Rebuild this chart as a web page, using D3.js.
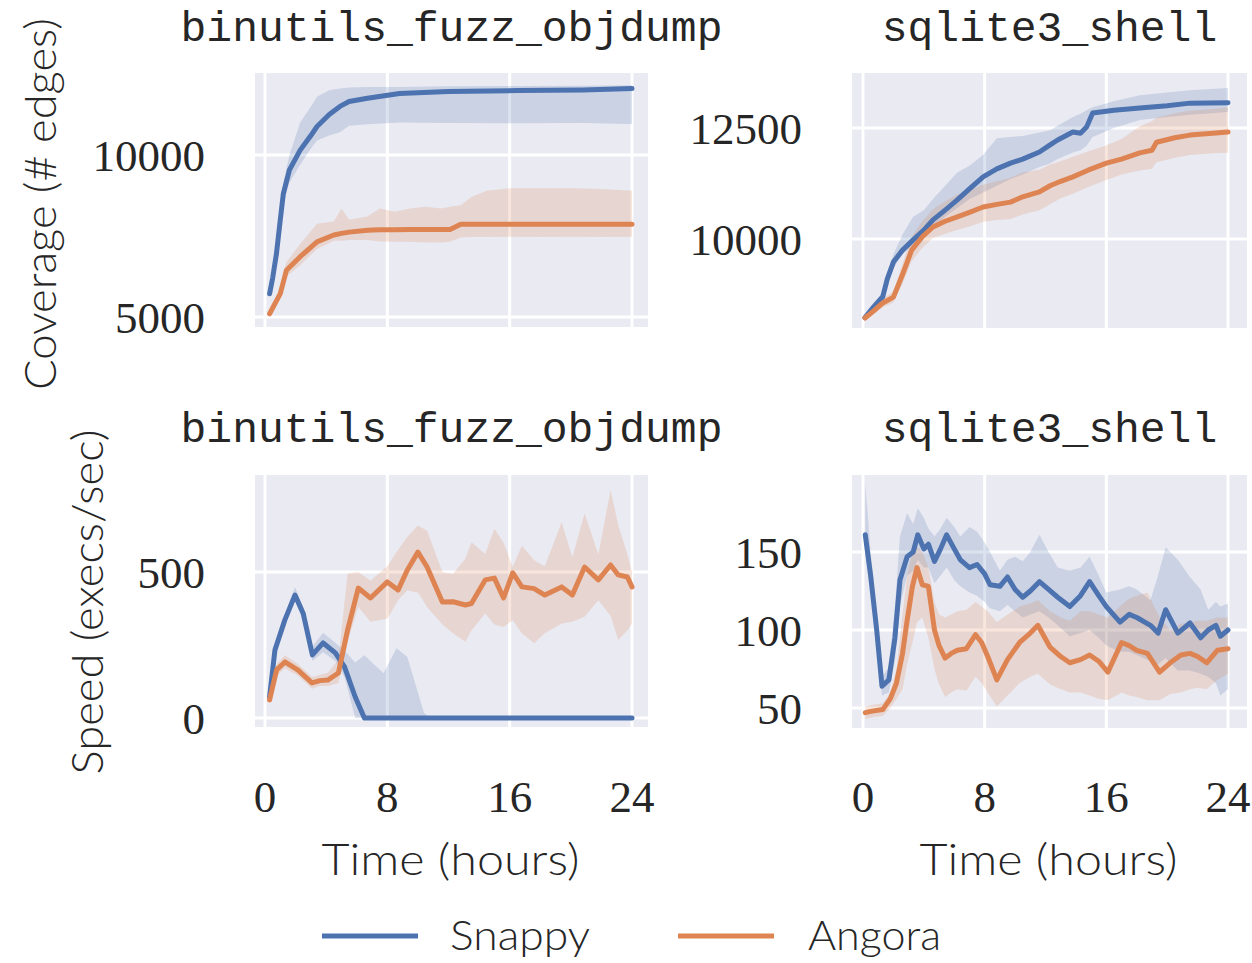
<!DOCTYPE html>
<html>
<head>
<meta charset="utf-8">
<script src="https://cdn.jsdelivr.net/npm/d3@7"></script>
<style>
  html, body { margin: 0; padding: 0; background: #fff; }
  svg { display: block; }
</style>
</head>
<body>
<svg id="chart" width="1252" height="963"></svg>
<script>
// ---------------- DATA ----------------
const hourTicks = [0, 8, 16, 24];
const covObjTicks = [5000, 10000];
const covSqlTicks = [10000, 12500];
const spdObjTicks = [0, 500];
const spdSqlTicks = [50, 100, 150];
const seriesNames = ["Snappy", "Angora"];

// binutils_fuzz_objdump coverage
const objCovSnappyT    = [0.3, 0.5, 0.75, 1.0, 1.2, 1.6, 2.3, 3.0, 3.4, 4.2, 4.9, 5.5, 6.7, 8.8, 12, 16.5, 20.8, 24];
const objCovSnappyMean = [5720, 6200, 6960, 8000, 8810, 9540, 10150, 10600, 10880, 11250, 11500, 11650, 11750, 11900, 11960, 11990, 12010, 12050];
const objCovSnappyHi   = [5800, 6350, 7150, 8300, 9150, 10000, 11000, 11500, 11800, 12000, 12050, 12080, 12100, 12100, 12120, 12130, 12140, 12150];
const objCovSnappyLo   = [5650, 6080, 6800, 7750, 8500, 9150, 9700, 10200, 10450, 10600, 10700, 10900, 10950, 11000, 10990, 10980, 10990, 10960];

const objCovAngoraT    = [0.3, 1.0, 1.4, 2.3, 3.4, 4.5, 5.0, 5.5, 6.7, 7.5, 8.5, 9.5, 10.5, 11.5, 12.1, 12.8, 13.5, 14.5, 16, 18, 20, 22, 24];
const objCovAngoraMean = [5100, 5720, 6440, 6860, 7320, 7530, 7580, 7620, 7680, 7690, 7690, 7700, 7700, 7700, 7700, 7860, 7860, 7860, 7860, 7860, 7860, 7860, 7860];
const objCovAngoraHi   = [5200, 5900, 6700, 7250, 7880, 7950, 8350, 8000, 8100, 8350, 8250, 8350, 8400, 8350, 8400, 8450, 8700, 8900, 8970, 8970, 8970, 8950, 8900];
const objCovAngoraLo   = [5050, 5600, 6250, 6600, 7100, 7350, 7350, 7380, 7380, 7330, 7320, 7320, 7300, 7300, 7320, 7450, 7470, 7470, 7480, 7470, 7480, 7470, 7480];

// sqlite3_shell coverage
const sqlCovSnappyT    = [0.13, 0.7, 1.3, 1.6, 2.0, 2.6, 3.3, 4.0, 4.6, 5.4, 6.2, 7.0, 7.9, 8.8, 9.7, 10.5, 11.6, 12.3, 12.8, 13.8, 14.3, 14.7, 15.1, 16.5, 18.2, 20, 21.5, 24];
const sqlCovSnappyMean = [8230, 8470, 8700, 9100, 9480, 9750, 9980, 10200, 10430, 10650, 10880, 11130, 11400, 11580, 11710, 11800, 11960, 12120, 12230, 12410, 12380, 12520, 12840, 12900, 12950, 13000, 13060, 13070];
const sqlCovSnappyHi   = [8290, 8560, 8800, 9250, 9650, 10100, 10500, 10650, 10900, 11200, 11500, 11650, 11900, 12270, 12300, 12320, 12400, 12450, 12550, 12750, 12820, 12900, 12970, 13100, 13240, 13300, 13350, 13400];
const sqlCovSnappyLo   = [8170, 8400, 8620, 8950, 9350, 9650, 9880, 10050, 10250, 10500, 10700, 10900, 11050, 11200, 11350, 11450, 11620, 11700, 11800, 11950, 12000, 12100, 12300, 12500, 12680, 12750, 12800, 12860];

const sqlCovAngoraT    = [0.13, 0.7, 1.3, 2.0, 2.6, 3.2, 3.9, 4.6, 5.4, 6.2, 7.0, 7.9, 8.8, 9.7, 10.5, 11.6, 12.3, 13.0, 13.8, 14.8, 16.0, 17.0, 18.2, 19.0, 19.3, 20.5, 21.5, 23, 24];
const sqlCovAngoraMean = [8220, 8380, 8560, 8690, 9200, 9750, 10050, 10270, 10400, 10500, 10600, 10720, 10780, 10830, 10950, 11060, 11200, 11300, 11400, 11550, 11710, 11800, 11940, 12000, 12180, 12280, 12340, 12380, 12410];
const sqlCovAngoraHi   = [8280, 8460, 8660, 8810, 9450, 10050, 10400, 10670, 10850, 11000, 11100, 11220, 11300, 11380, 11500, 11560, 11680, 11750, 11850, 11970, 12110, 12250, 12540, 12650, 12730, 12830, 12890, 12930, 12970];
const sqlCovAngoraLo   = [8160, 8300, 8460, 8570, 9000, 9500, 9800, 10020, 10120, 10200, 10280, 10390, 10430, 10450, 10550, 10650, 10780, 10920, 11020, 11170, 11330, 11450, 11540, 11580, 11730, 11830, 11890, 11930, 11940];

// binutils_fuzz_objdump speed
const objSpdSnappyT    = [0.3, 0.65, 1.3, 1.96, 2.5, 3.1, 3.8, 4.6, 5.2, 5.9, 6.5, 7.75, 8.6, 9.3, 10.4, 10.8, 24];
const objSpdSnappyMean = [72, 233, 336, 421, 358, 216, 257, 223, 175, 72, 0, 0, 0, 0, 0, 0, 0];
const objSpdSnappyHi   = [82, 250, 355, 448, 380, 245, 292, 258, 230, 190, 215, 153, 239, 210, 17, 0, 0];
const objSpdSnappyLo   = [62, 215, 318, 400, 335, 195, 225, 195, 140, 0, 0, 0, 0, 0, 0, 0, 0];

const objSpdAngoraT    = [0.3, 0.76, 1.3, 2.16, 3.07, 3.6, 4.1, 4.8, 5.4, 6.1, 6.9, 8.0, 8.7, 9.3, 10.0, 10.6, 11.6, 12.3, 13.1, 13.5, 14.4, 15.0, 15.6, 16.2, 16.8, 17.6, 18.3, 19.4, 20.1, 20.9, 21.8, 22.6, 23.1, 23.7, 24.0];
const objSpdAngoraMean = [62, 165, 192, 164, 120, 128, 130, 154, 301, 445, 411, 466, 438, 506, 568, 517, 397, 398, 387, 392, 473, 479, 411, 497, 449, 443, 421, 449, 421, 517, 473, 524, 490, 483, 449];
const objSpdAngoraHi   = [75, 185, 215, 185, 140, 148, 155, 200, 494, 500, 470, 520, 575, 620, 659, 641, 500, 494, 545, 602, 562, 648, 600, 517, 590, 540, 520, 670, 550, 700, 560, 780, 660, 560, 500];
const objSpdAngoraLo   = [50, 145, 170, 145, 100, 110, 110, 120, 260, 380, 330, 340, 403, 437, 430, 380, 320, 290, 261, 300, 358, 320, 312, 335, 290, 256, 290, 324, 330, 347, 403, 350, 267, 300, 324];

// sqlite3_shell speed
const sqlSpdSnappyT    = [0.15, 0.5, 0.9, 1.25, 1.7, 2.1, 2.43, 2.9, 3.3, 3.6, 4.0, 4.3, 4.7, 5.1, 5.5, 6.0, 6.4, 7.0, 7.5, 8.0, 8.35, 9.0, 9.5, 10.0, 10.5, 11.0, 11.6, 12.2, 12.8, 13.6, 14.3, 14.9, 15.5, 16.0, 16.9, 17.5, 18.0, 18.9, 19.4, 19.9, 20.7, 21.5, 22.2, 22.7, 23.2, 23.5, 24];
const sqlSpdSnappyMean = [161, 135, 100, 64, 68, 95, 132, 147, 150, 161, 152, 155, 144, 152, 161, 152, 145, 140, 142, 136, 129, 128, 134, 126, 121, 125, 131, 126, 121, 115, 122, 131, 122, 115, 105, 110, 108, 103, 98, 113, 98, 104.5, 95, 100, 103, 96, 100];
const sqlSpdSnappyHi   = [194, 150, 110, 70, 76, 115, 160, 175, 168, 178, 172, 165, 160, 165, 172, 166, 160, 166, 163, 156, 150, 138, 145, 147, 144, 150, 161, 150, 140, 138, 140, 147, 135, 124, 126, 128, 126, 119, 135, 153, 145, 134, 126, 113, 118, 115, 117];
const sqlSpdSnappyLo   = [150, 125, 90, 58, 60, 80, 115, 135, 138, 145, 140, 140, 130, 135, 140, 132, 128, 124, 122, 118, 114, 112, 116, 112, 108, 110, 112, 108, 103, 96, 98, 100, 95, 90, 86, 86, 84, 80, 78, 82, 74, 74, 72, 70, 66, 58, 62];

const sqlSpdAngoraT    = [0.15, 0.6, 1.3, 1.8, 2.2, 2.6, 2.9, 3.25, 3.55, 3.9, 4.3, 4.7, 5.0, 5.4, 5.8, 6.2, 6.8, 7.4, 7.8, 8.2, 8.8, 9.5, 10.3, 11.0, 11.5, 12.3, 13.0, 13.6, 14.3, 14.9, 15.5, 16.1, 17.0, 17.5, 18.0, 18.7, 19.5, 20.2, 20.9, 21.5, 22.0, 22.6, 23.3, 24];
const sqlSpdAngoraMean = [47, 48, 49, 56, 66, 85, 106, 128, 140, 129, 128, 100, 90, 82, 85, 87, 88, 97, 92, 83, 68, 81, 92, 98, 103, 89, 83, 79, 81, 84, 80, 73, 92, 90, 87, 85, 73, 79, 84, 85, 83, 79, 87, 88];
const sqlSpdAngoraHi   = [51, 52, 53, 60, 75, 110, 135, 150, 153, 150, 140, 118, 110, 108, 110, 112, 113, 118, 115, 112, 105, 110, 115, 117, 119, 112, 108, 106, 112, 112, 110, 108, 116, 120, 122, 124, 108, 100, 104, 105, 106, 106, 108, 108];
const sqlSpdAngoraLo   = [43, 44, 45, 50, 56, 62, 78, 92, 105, 108, 95, 75, 65, 57, 60, 62, 61, 70, 66, 60, 51, 58, 66, 70, 72, 65, 62, 60, 60, 58, 56, 55, 60, 58, 57, 55, 55, 59, 60, 62, 63, 62, 68, 72];

// ---------------- DRAWING ----------------
const COLORS = { Snappy: "#4C72B0", Angora: "#DD8452" };
const BG = "#EAEAF2";
const svg = d3.select("#chart");

function pack(T, M, L, H) {
  return T.map((t, i) => ({ t, m: M[i], lo: L[i], hi: H[i] }));
}

const panels = [
  { title: "binutils_fuzz_objdump", box: [255, 73, 648, 327], xr: [265, 632],
    yd: [5000, 10000], yr: [317, 155], ticks: covObjTicks, showX: false,
    series: { Snappy: pack(objCovSnappyT, objCovSnappyMean, objCovSnappyLo, objCovSnappyHi),
              Angora: pack(objCovAngoraT, objCovAngoraMean, objCovAngoraLo, objCovAngoraHi) } },
  { title: "sqlite3_shell", box: [852, 73, 1247, 328], xr: [863, 1228],
    yd: [10000, 12500], yr: [239, 128], ticks: covSqlTicks, showX: false,
    series: { Snappy: pack(sqlCovSnappyT, sqlCovSnappyMean, sqlCovSnappyLo, sqlCovSnappyHi),
              Angora: pack(sqlCovAngoraT, sqlCovAngoraMean, sqlCovAngoraLo, sqlCovAngoraHi) } },
  { title: "binutils_fuzz_objdump", box: [255, 475, 648, 727], xr: [265, 632],
    yd: [0, 500], yr: [718, 572], ticks: spdObjTicks, showX: true,
    series: { Snappy: pack(objSpdSnappyT, objSpdSnappyMean, objSpdSnappyLo, objSpdSnappyHi),
              Angora: pack(objSpdAngoraT, objSpdAngoraMean, objSpdAngoraLo, objSpdAngoraHi) } },
  { title: "sqlite3_shell", box: [852, 475, 1247, 728], xr: [863, 1228],
    yd: [50, 150], yr: [708, 552], ticks: spdSqlTicks, showX: true,
    series: { Snappy: pack(sqlSpdSnappyT, sqlSpdSnappyMean, sqlSpdSnappyLo, sqlSpdSnappyHi),
              Angora: pack(sqlSpdAngoraT, sqlSpdAngoraMean, sqlSpdAngoraLo, sqlSpdAngoraHi) } }
];

const TICK_FONT = "'Liberation Serif', 'DejaVu Serif', serif";
const MONO_FONT = "'Liberation Mono', 'DejaVu Sans Mono', monospace";
const SANS_FONT = "Lato, 'Open Sans', sans-serif";
const TEXT_COL = "#262626";

panels.forEach((p, idx) => {
  const [x0, y0, x1, y1] = p.box;
  const x = d3.scaleLinear().domain([0, 24]).range(p.xr);
  const y = d3.scaleLinear().domain(p.yd).range(p.yr);
  const g = svg.append("g");
  const clipId = "clip" + idx;
  svg.append("defs").append("clipPath").attr("id", clipId)
    .append("rect").attr("x", x0).attr("y", y0).attr("width", x1 - x0).attr("height", y1 - y0);

  g.append("rect").attr("x", x0).attr("y", y0).attr("width", x1 - x0).attr("height", y1 - y0).attr("fill", BG);

  // grid lines
  g.append("g").selectAll("line").data(hourTicks).join("line")
    .attr("x1", d => x(d)).attr("x2", d => x(d)).attr("y1", y0).attr("y2", y1)
    .attr("stroke", "#fff").attr("stroke-width", 3);
  g.append("g").selectAll("line").data(p.ticks).join("line")
    .attr("x1", x0).attr("x2", x1).attr("y1", d => y(d)).attr("y2", d => y(d))
    .attr("stroke", "#fff").attr("stroke-width", 3);

  const plot = g.append("g").attr("clip-path", `url(#${clipId})`);
  seriesNames.forEach(name => {
    const data = p.series[name];
    const area = d3.area().x(d => x(d.t)).y0(d => y(d.lo)).y1(d => y(d.hi));
    plot.append("path").datum(data).attr("d", area)
      .attr("fill", COLORS[name]).attr("fill-opacity", 0.2).attr("stroke", "none");
  });
  seriesNames.forEach(name => {
    const data = p.series[name];
    const line = d3.line().x(d => x(d.t)).y(d => y(d.m));
    plot.append("path").datum(data).attr("d", line)
      .attr("fill", "none").attr("stroke", COLORS[name]).attr("stroke-width", 5)
      .attr("stroke-linejoin", "round").attr("stroke-linecap", "round");
  });

  // y tick labels
  g.append("g").selectAll("text").data(p.ticks).join("text")
    .attr("x", x0 - 50).attr("y", d => y(d)).attr("dy", "0.35em")
    .attr("text-anchor", "end").attr("font-family", TICK_FONT).attr("font-size", 45)
    .attr("fill", TEXT_COL).text(d => d);

  // x tick labels
  if (p.showX) {
    g.append("g").selectAll("text").data(hourTicks).join("text")
      .attr("x", d => x(d)).attr("y", 812)
      .attr("text-anchor", "middle").attr("font-family", TICK_FONT).attr("font-size", 45)
      .attr("fill", TEXT_COL).text(d => d);
    g.append("text").attr("x", (x0 + x1) / 2 - 1).attr("y", 875)
      .attr("text-anchor", "middle").attr("font-family", SANS_FONT).attr("font-size", 43)
      .attr("font-weight", 300)
      .attr("fill", TEXT_COL).attr("textLength", 258).attr("lengthAdjust", "spacingAndGlyphs")
      .text("Time (hours)");
  }

  // title
  g.append("text").attr("x", (x0 + x1) / 2).attr("y", idx < 2 ? 41 : 442)
    .attr("text-anchor", "middle").attr("font-family", MONO_FONT).attr("font-size", 43)
    .attr("fill", TEXT_COL).text(p.title);
});

// y axis labels
svg.append("text").attr("transform", "translate(56,204) rotate(-90)")
  .attr("text-anchor", "middle").attr("font-family", SANS_FONT).attr("font-size", 43)
  .attr("font-weight", 300)
  .attr("fill", TEXT_COL).attr("textLength", 372).attr("lengthAdjust", "spacingAndGlyphs")
  .text("Coverage (# edges)");
svg.append("text").attr("transform", "translate(103,602) rotate(-90)")
  .attr("text-anchor", "middle").attr("font-family", SANS_FONT).attr("font-size", 43)
  .attr("font-weight", 300)
  .attr("fill", TEXT_COL).attr("textLength", 345).attr("lengthAdjust", "spacingAndGlyphs")
  .text("Speed (execs/sec)");

// legend
const legendItems = [
  { name: seriesNames[0], lx: 322, tx: 450, w: 140 },
  { name: seriesNames[1], lx: 678, tx: 808, w: 133 }
];
const lg = svg.append("g");
legendItems.forEach(it => {
  lg.append("line").attr("x1", it.lx).attr("x2", it.lx + 96).attr("y1", 936).attr("y2", 936)
    .attr("stroke", COLORS[it.name]).attr("stroke-width", 5);
  lg.append("text").attr("x", it.tx).attr("y", 950).attr("font-family", SANS_FONT)
    .attr("font-size", 41).attr("font-weight", 300).attr("fill", TEXT_COL)
    .attr("textLength", it.w).attr("lengthAdjust", "spacingAndGlyphs").text(it.name);
});
</script>
</body>
</html>
